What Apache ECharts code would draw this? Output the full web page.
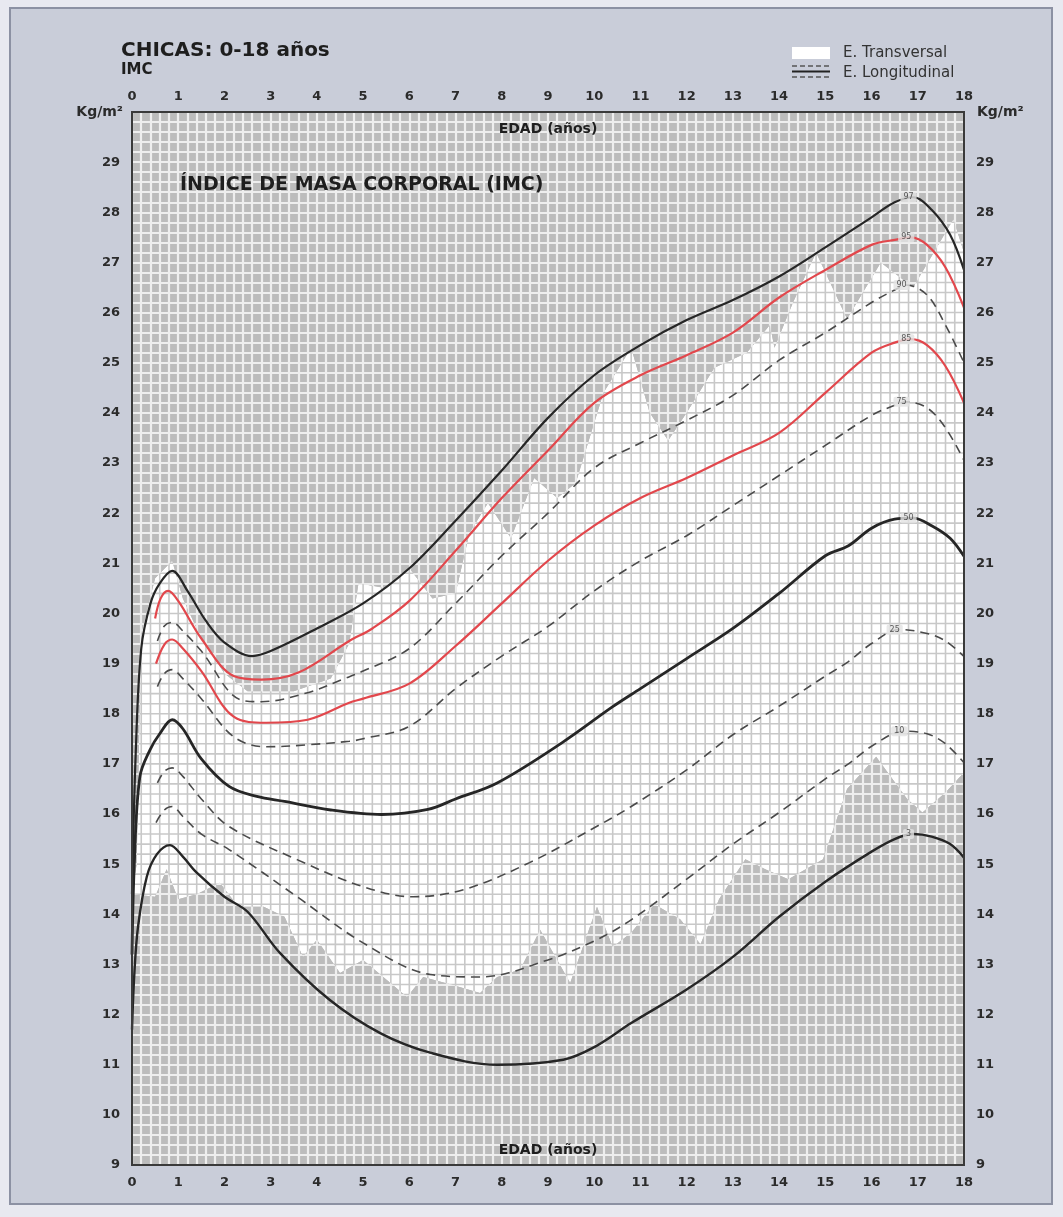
<!DOCTYPE html>
<html><head><meta charset="utf-8">
<script src="https://cdn.jsdelivr.net/npm/echarts@6/dist/echarts.min.js"></script>
<style>html,body{margin:0;padding:0;background:#e8e9f0;}#c{width:1063px;height:1217px;}</style>
</head><body><div id="c"></div>
<script>
// ---- Data (age in years, BMI kg/m²) ----
const ageTicks = [0,1,2,3,4,5,6,7,8,9,10,11,12,13,14,15,16,17,18];
const bmiTicks = [9,10,11,12,13,14,15,16,17,18,19,20,21,22,23,24,25,26,27,28,29];

const p97Age = [0,0.08,0.2,0.4,0.6,0.87,1.2,1.6,2,2.6,3,4,5,6,7,8,9,10,11,12,13,14,15,16,16.5,16.9,17.3,17.7,18];
const p97    = [14.4,17.2,19.3,20.2,20.6,20.85,20.45,19.85,19.42,19.15,19.25,19.7,20.2,20.9,21.85,22.85,23.9,24.75,25.35,25.85,26.25,26.72,27.3,27.9,28.2,28.3,28.05,27.55,26.85];

const p95Age = [0.5,0.62,0.78,1.0,1.5,2.2,2.8,3.6,4.7,5.2,6,7,8,9,10,11,12,13,14,15,16,16.5,16.85,17.2,17.6,18];
const p95    = [19.9,20.3,20.45,20.25,19.5,18.75,18.68,18.82,19.45,19.7,20.25,21.25,22.3,23.25,24.2,24.75,25.15,25.6,26.3,26.85,27.35,27.45,27.5,27.35,26.9,26.1];

const p90Age = [0.55,0.7,0.87,1.1,1.5,2.34,2.8,3.8,4.6,5,6,7,8,9,10,11,12,13,14,15,16,16.5,16.75,17.2,17.6,18];
const p90    = [19.45,19.75,19.82,19.65,19.25,18.28,18.24,18.42,18.7,18.85,19.3,20.2,21.15,22.0,22.9,23.4,23.85,24.35,25.05,25.6,26.2,26.45,26.55,26.35,25.75,25.0];

const p85Age = [0.52,0.7,0.87,1.1,1.5,2.2,2.9,3.8,4.7,5,6,7,8,9,10,11,12,13,14,15,16,16.5,16.85,17.2,17.6,18];
const p85    = [19.0,19.38,19.48,19.3,18.85,17.94,17.82,17.88,18.22,18.3,18.6,19.35,20.2,21.05,21.75,22.3,22.7,23.15,23.6,24.4,25.2,25.4,25.47,25.35,24.93,24.2];

const p75Age = [0.55,0.7,0.87,1.1,1.5,2.2,2.9,3.8,4.7,5,6,7,8,9,10,11,12,13,14,15,16,16.5,16.75,17.2,17.6,18];
const p75    = [18.54,18.8,18.88,18.7,18.3,17.54,17.34,17.38,17.45,17.5,17.75,18.5,19.15,19.74,20.45,21.05,21.55,22.15,22.75,23.35,23.95,24.15,24.22,24.1,23.7,23.05];

const p50Age = [0,0.05,0.17,0.39,0.6,0.87,1.1,1.5,2.1,2.7,3.3,4.3,5.4,6.4,7,7.9,9.3,10.4,11,12,13,14,15,15.5,16,16.5,16.9,17.3,17.7,18];
const p50    = [13.2,15.0,16.74,17.28,17.6,17.88,17.7,17.1,16.55,16.35,16.25,16.08,15.99,16.09,16.3,16.62,17.42,18.14,18.5,19.1,19.7,20.4,21.15,21.35,21.7,21.88,21.9,21.75,21.5,21.14];

const p25Age = [0.55,0.7,0.87,1.1,1.5,2.1,3.57,5,6.08,7.17,8.6,10.05,10.8,12,13,14,15,15.5,16,16.6,17.2,17.6,18];
const p25    = [16.62,16.85,16.92,16.75,16.3,15.75,15.09,14.55,14.35,14.49,15.03,15.75,16.15,16.88,17.58,18.15,18.75,19.04,19.4,19.68,19.6,19.45,19.14];

const p10Age = [0.52,0.7,0.87,1.1,1.5,2.1,3.57,5,6.45,7.53,9,10.05,10.8,12,13,14,15,15.5,16,16.7,17.2,17.6,18];
const p10    = [15.83,16.08,16.15,15.95,15.6,15.29,14.35,13.43,12.8,12.75,13.09,13.49,13.89,14.7,15.4,16.03,16.7,17.0,17.35,17.65,17.6,17.4,17.02];

const p3Age  = [0,0.05,0.13,0.32,0.54,0.82,1.1,1.4,2.0,2.5,3.2,4.28,5.37,6.45,7.9,9.33,10,10.8,12,13,14,15,16,16.5,16.9,17.3,17.7,18];
const p3     = [11.7,12.8,13.75,14.75,15.2,15.38,15.15,14.83,14.35,14.05,13.23,12.29,11.63,11.24,11.0,11.1,11.35,11.83,12.5,13.15,13.95,14.65,15.25,15.5,15.6,15.55,15.4,15.13];

// E. Transversal band (white): upper and lower limits
const bandTopAge = [0,0.1,0.2,0.5,0.87,1.1,1.5,2.0,2.5,3.5,4.3,4.7,4.9,5.5,6.0,6.5,7.0,7.3,7.7,8.2,8.7,9.2,9.6,10.2,10.8,11.2,11.6,12.0,12.6,13.3,13.8,13.9,14.3,14.8,15.47,16.2,16.9,17.77,18];
const bandTop    = [14.4,15.0,19.6,20.7,21.05,20.3,19.5,18.8,18.45,18.45,18.7,19.4,20.6,20.5,20.9,20.3,20.4,21.6,22.2,21.5,22.7,22.3,22.6,24.4,25.3,24.0,23.45,24.0,24.9,25.2,25.75,25.3,26.2,27.2,25.87,27.0,26.5,27.86,27.2];
const bandLowAge = [0,0.5,0.75,1.0,1.4,1.9,2.3,2.85,3.3,3.7,4.0,4.5,5.0,5.95,6.3,6.9,7.53,7.9,8.4,8.83,9.48,10.06,10.4,10.8,11.3,11.86,12.3,12.7,13.27,13.7,14.2,14.95,15.47,16.1,16.77,17.1,17.6,18];
const bandLow    = [14.4,14.35,14.9,14.3,14.4,14.63,14.15,14.15,13.95,13.15,13.49,12.83,13.09,12.35,12.75,12.6,12.43,12.75,12.9,13.69,12.63,14.15,13.35,13.63,14.2,13.9,13.4,14.3,15.1,14.9,14.7,15.1,16.5,17.14,16.3,16.03,16.43,16.83];

const percentiles = ['97','95','90','85','75','50','25','10','3'];

// ---- Build ----
const zip = (a, b) => a.map((x, i) => [x, b[i]]);
const RED = '#e2474c', BLK = '#262626', DSH = '#4a4a4a';
const curveDefs = [
  {name:'97', age:p97Age, v:p97, color:BLK, width:2.2, type:'solid'},
  {name:'95', age:p95Age, v:p95, color:RED, width:2.2, type:'solid'},
  {name:'90', age:p90Age, v:p90, color:DSH, width:1.6, type:[9,6]},
  {name:'85', age:p85Age, v:p85, color:RED, width:2.2, type:'solid'},
  {name:'75', age:p75Age, v:p75, color:DSH, width:1.6, type:[9,6]},
  {name:'50', age:p50Age, v:p50, color:BLK, width:2.8, type:'solid'},
  {name:'25', age:p25Age, v:p25, color:DSH, width:1.6, type:[9,6]},
  {name:'10', age:p10Age, v:p10, color:DSH, width:1.6, type:[9,6]},
  {name:'3',  age:p3Age,  v:p3,  color:BLK, width:2.4, type:'solid'}
];
const labelPts = curveDefs.map(c => {
  let bi = -1;
  c.age.forEach((a, i) => { if (a >= 15 && (bi < 0 || c.v[i] > c.v[bi])) bi = i; });
  return {value:[c.age[bi] - 0.1, c.v[bi]], name:c.name};
});

const GRAY = '#bcbcbc';
const LIGHT = '#eeeeee';
const DARKLINE = '#c8c8c8';
const font = '"DejaVu Sans", Verdana, sans-serif';
const X_MIN = 0, X_MAX = 18, Y_MIN = 9, Y_MAX = 30, SUB = 5;

// white "E. Transversal" band with its own (gray) grid lines, clipped to the band
const bandSeries = {
  type:'custom', coordinateSystem:'cartesian2d', data:[[0, 9]], encode:{x:0, y:1},
  z:1, silent:true, clip:true,
  renderItem:(params, api) => {
    const up = bandTopAge.map((a, i) => api.coord([a, bandTop[i]]));
    const lo = bandLowAge.map((a, i) => api.coord([a, bandLow[i]])).reverse();
    const pts = up.concat(lo);
    const children = [{type:'polygon', shape:{points:pts}, style:{fill:'#ffffff'}}];
    for (let k = 0; k <= (X_MAX - X_MIN) * SUB; k++) {
      const x = X_MIN + k / SUB, a = api.coord([x, Y_MIN]), b = api.coord([x, Y_MAX]);
      children.push({type:'line', shape:{x1:a[0], y1:a[1], x2:b[0], y2:b[1]}, style:{stroke:DARKLINE, lineWidth:1.6}});
    }
    for (let k = 0; k <= (Y_MAX - Y_MIN) * SUB; k++) {
      const y = Y_MIN + k / SUB, a = api.coord([X_MIN, y]), b = api.coord([X_MAX, y]);
      children.push({type:'line', shape:{x1:a[0], y1:a[1], x2:b[0], y2:b[1]}, style:{stroke:DARKLINE, lineWidth:1.6}});
    }
    return {type:'group', children:children, clipPath:{type:'polygon', shape:{points:pts}}};
  }
};

const series = [bandSeries];
curveDefs.forEach(c => series.push({
  type:'line', name:'P' + c.name, data:zip(c.age, c.v), smooth:0.35,
  showSymbol:false, symbol:'none', z:5, silent:true,
  lineStyle:{color:c.color, width:c.width, type:c.type}
}));
series.push({
  type:'scatter', data:labelPts, symbolSize:0, z:7, silent:true,
  label:{show:true, position:'inside', formatter:p => p.name, fontSize:8, color:'#333', fontFamily:font,
         backgroundColor:'#e2e2e2', padding:[1,3], borderRadius:2}
});

const axisLbl = {color:'#2b2b2b', fontSize:13, fontWeight:'bold', fontFamily:font};
const yFmt = v => bmiTicks.includes(v) ? String(v) : '';
const noLine = {show:false, onZero:false};
const option = {
  backgroundColor:'#e8e9f0',
  animation:false,
  grid:{left:132, right:99, top:112, bottom:52, show:true, backgroundColor:GRAY, borderWidth:0},
  xAxis:[
    {type:'value', min:X_MIN, max:X_MAX, interval:1, position:'bottom',
     axisLine:noLine, axisTick:{show:false},
     axisLabel:Object.assign({margin:11}, axisLbl),
     splitLine:{show:true, lineStyle:{color:LIGHT, width:2.2}},
     minorTick:{show:false, splitNumber:SUB},
     minorSplitLine:{show:true, lineStyle:{color:LIGHT, width:2.2}}},
    {type:'value', min:X_MIN, max:X_MAX, interval:1, position:'top',
     axisLine:noLine, axisTick:{show:false},
     axisLabel:Object.assign({margin:9}, axisLbl), splitLine:{show:false}}
  ],
  yAxis:[
    {type:'value', min:Y_MIN, max:Y_MAX, interval:1, position:'left',
     axisLine:noLine, axisTick:{show:false},
     axisLabel:Object.assign({margin:12, formatter:yFmt}, axisLbl),
     splitLine:{show:true, lineStyle:{color:LIGHT, width:2.2}},
     minorTick:{show:false, splitNumber:SUB},
     minorSplitLine:{show:true, lineStyle:{color:LIGHT, width:2.2}},
     name:'Kg/m²', nameLocation:'end', nameGap:0,
     nameTextStyle:{color:'#2b2b2b', fontSize:14, fontWeight:'bold', fontFamily:font, align:'right', verticalAlign:'middle', padding:[0,9,4,0]}},
    {type:'value', min:Y_MIN, max:Y_MAX, interval:1, position:'right',
     axisLine:noLine, axisTick:{show:false},
     axisLabel:Object.assign({margin:12, formatter:yFmt}, axisLbl),
     splitLine:{show:false},
     name:'Kg/m²', nameLocation:'end', nameGap:0,
     nameTextStyle:{color:'#2b2b2b', fontSize:14, fontWeight:'bold', fontFamily:font, align:'left', verticalAlign:'middle', padding:[0,0,0,13]}}
  ],
  graphic:[
    {type:'rect', z:-10, shape:{x:10, y:8, width:1042, height:1196},
     style:{fill:'#c9cdd9', stroke:'#8c91a3', lineWidth:2}},
    {type:'rect', z:100, silent:true, shape:{x:132, y:112, width:832, height:1053},
     style:{fill:'none', stroke:'#3a3a3a', lineWidth:2}},
    {type:'text', z:10, x:121, y:51, style:{text:'CHICAS: 0-18 años', font:'bold 20px ' + font, fill:'#1e1e1e', verticalAlign:'middle', textVerticalAlign:'middle'}},
    {type:'text', z:10, x:121, y:70, style:{text:'IMC', font:'bold 15px ' + font, fill:'#1e1e1e', verticalAlign:'middle', textVerticalAlign:'middle'}},
    {type:'rect', z:10, shape:{x:792, y:47, width:38, height:12}, style:{fill:'#ffffff'}},
    {type:'text', z:10, x:843, y:53, style:{text:'E. Transversal', font:'15px ' + font, fill:'#333', verticalAlign:'middle', textVerticalAlign:'middle'}},
    {type:'line', z:10, shape:{x1:792, y1:66, x2:830, y2:66}, style:{stroke:'#555', lineWidth:1.3, lineDash:[5,3]}},
    {type:'line', z:10, shape:{x1:792, y1:71.5, x2:830, y2:71.5}, style:{stroke:'#222', lineWidth:2.2}},
    {type:'line', z:10, shape:{x1:792, y1:77, x2:830, y2:77}, style:{stroke:'#555', lineWidth:1.3, lineDash:[5,3]}},
    {type:'text', z:10, x:843, y:73, style:{text:'E. Longitudinal', font:'15px ' + font, fill:'#333', verticalAlign:'middle', textVerticalAlign:'middle'}},
    {type:'text', z:10, x:548, y:129, style:{text:'EDAD (años)', font:'bold 14px ' + font, fill:'#1e1e1e', textAlign:'center', align:'center', verticalAlign:'middle', textVerticalAlign:'middle'}},
    {type:'text', z:10, x:548, y:1150, style:{text:'EDAD (años)', font:'bold 14px ' + font, fill:'#1e1e1e', textAlign:'center', align:'center', verticalAlign:'middle', textVerticalAlign:'middle'}},
    {type:'text', z:10, x:180, y:185, style:{text:'ÍNDICE DE MASA CORPORAL (IMC)', font:'bold 19px ' + font, fill:'#1e1e1e', verticalAlign:'middle', textVerticalAlign:'middle'}}
  ],
  series:series
};
const chart = echarts.init(document.getElementById('c'), null, {renderer:'canvas'});
chart.setOption(option);
</script></body></html>
